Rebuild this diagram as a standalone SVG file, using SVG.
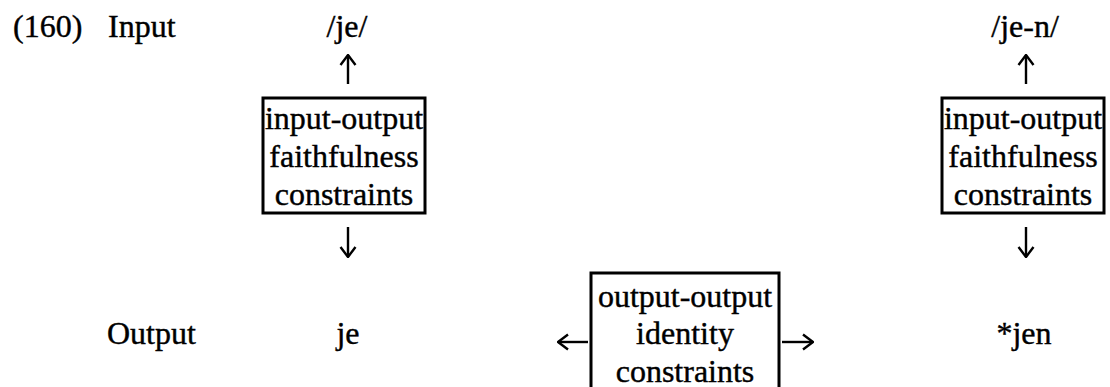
<svg xmlns="http://www.w3.org/2000/svg" width="1110" height="387" viewBox="0 0 1110 387">
<style>
text{font-family:"Liberation Serif","Times New Roman",serif;font-size:32px;fill:#000;stroke:#000;stroke-width:0.4}
.c{text-anchor:middle}
.box{fill:#fff;stroke:#000;stroke-width:3}
.arr{fill:none;stroke:#000;stroke-width:2.4}
</style>
<defs>
<marker id="ah" viewBox="0 0 12 18" refX="11" refY="9" markerWidth="12" markerHeight="18" markerUnits="userSpaceOnUse" orient="auto">
<path d="M1,1.5 L11,9 L1,16.5" fill="none" stroke="#000" stroke-width="2.4"/>
</marker>
</defs>
<g id="labels">
<text x="13" y="37">(160)</text>
<text x="108" y="37">Input</text>
<text x="107" y="344">Output</text>
</g>
<g id="input-je"><text class="c" x="347" y="37">/je/</text></g>
<g id="input-jen"><text class="c" x="1025" y="37">/je-n/</text></g>
<g id="io-left">
<rect class="box" x="263" y="98" width="162" height="115"/>
<text class="c" x="344" y="129">input-output</text>
<text class="c" x="344" y="167">faithfulness</text>
<text class="c" x="344" y="205">constraints</text>
</g>
<g id="io-right">
<rect class="box" x="942" y="98" width="162" height="115"/>
<text class="c" x="1023" y="129">input-output</text>
<text class="c" x="1023" y="167">faithfulness</text>
<text class="c" x="1023" y="205">constraints</text>
</g>
<g id="oo">
<rect class="box" x="591" y="273" width="188" height="118"/>
<text class="c" x="685" y="307">output-output</text>
<text class="c" x="685" y="344">identity</text>
<text class="c" x="685" y="382">constraints</text>
</g>
<g id="output-je"><text class="c" x="348" y="344">je</text></g>
<g id="output-jen"><text class="c" x="1024" y="344">*jen</text></g>
<g id="connectors">
<line class="arr" x1="348" y1="84" x2="348" y2="55" marker-end="url(#ah)"/>
<line class="arr" x1="348" y1="227" x2="348" y2="257" marker-end="url(#ah)"/>
<line class="arr" x1="1026" y1="84" x2="1026" y2="55" marker-end="url(#ah)"/>
<line class="arr" x1="1026" y1="227" x2="1026" y2="257" marker-end="url(#ah)"/>
<line class="arr" x1="588" y1="342" x2="558" y2="342" marker-end="url(#ah)"/>
<line class="arr" x1="782" y1="342" x2="813" y2="342" marker-end="url(#ah)"/>
</g>
</svg>
